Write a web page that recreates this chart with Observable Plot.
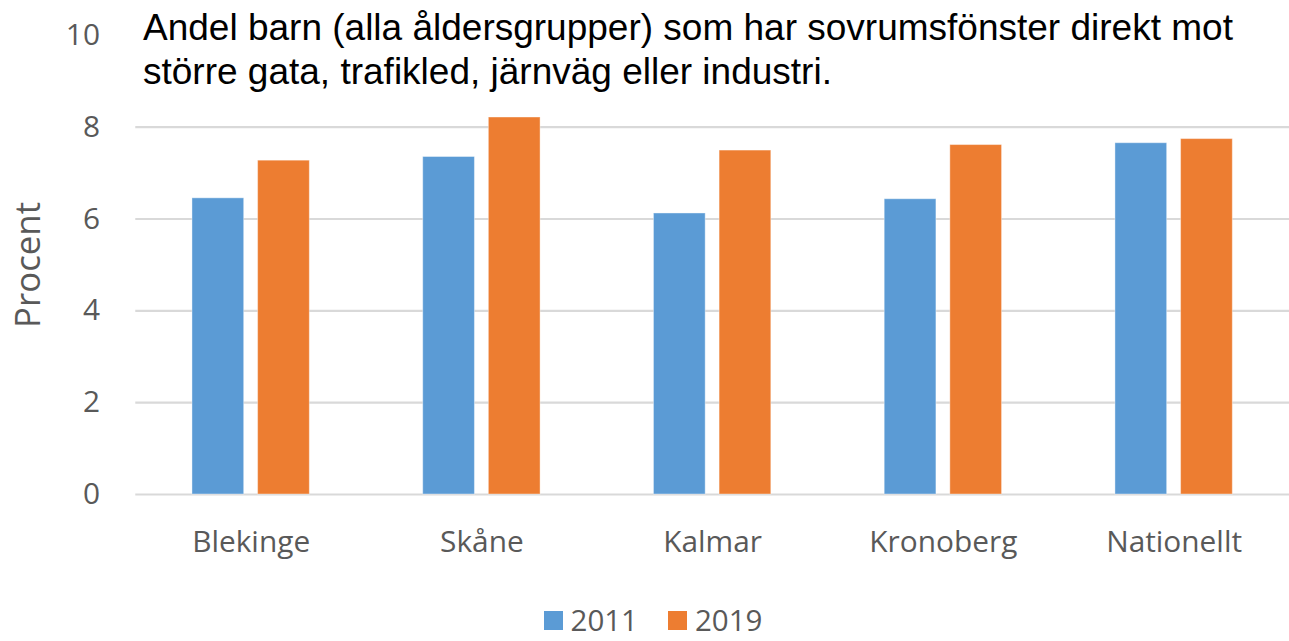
<!DOCTYPE html>
<html>
<head>
<meta charset="utf-8">
<script src="https://cdn.jsdelivr.net/npm/d3@7"></script>
<script src="https://cdn.jsdelivr.net/npm/@observablehq/plot@0.6"></script>
<style>
  html, body { margin: 0; padding: 0; overflow: hidden; background: #fff; }
  #wrap { position: relative; width: 1289px; height: 641px; overflow: hidden; }
  #chart { position: absolute; left: 0; top: 0; }
  #title { position: absolute; left: 143px; top: 6px; font-family: "Liberation Sans", Arial, sans-serif;
           font-size: 37px; line-height: 44px; color: #000; white-space: nowrap; }
  #legend { position: absolute; left: 0; width: 1306px; top: 605px; display: flex; justify-content: center;
            font-family: "Open Sans", sans-serif; font-size: 29.5px; color: #595959; line-height: 30px; }
  .item { display: flex; align-items: center; margin: 0 15px; }
  .sw { width: 19px; height: 19px; margin-right: 8px; }
  g[aria-label="y-axis label"] { font-size: 35px; }
</style>
</head>
<body>
<div id="wrap">
  <div id="chart"></div>
  <div id="title"></div>
  <div id="legend"></div>
</div>
<script>
const titleLines = ["Andel barn (alla åldersgrupper) som har sovrumsfönster direkt mot",
                    "större gata, trafikled, järnväg eller industri."];
const categories = ["Blekinge", "Skåne", "Kalmar", "Kronoberg", "Nationellt"];
const years = ["2011", "2019"];
const values2011 = [6.45, 7.35, 6.12, 6.43, 7.65];
const values2019 = [7.27, 8.21, 7.49, 7.61, 7.74];
const yTicks = [0, 2, 4, 6, 8, 10];
const gridTicks = [0, 2, 4, 6, 8];
const colors = ["#5B9BD5", "#ED7D31"];
const yLabel = "Procent";

const data2011 = categories.map((c, i) => ({category: c, year: years[0], value: values2011[i]}));
const data2019 = categories.map((c, i) => ({category: c, year: years[1], value: values2019[i]}));

const chart = Plot.plot({
  width: 1296,
  height: 580,
  marginLeft: 136,
  marginRight: 0,
  marginTop: 35,
  marginBottom: 83.3,
  style: {fontFamily: "'Open Sans', sans-serif", fontSize: "30px", color: "#595959", background: "transparent", overflow: "visible"},
  x: {domain: categories, paddingInner: 0.776, paddingOuter: 0.388},
  y: {domain: [0, 10]},
  color: {domain: years, range: colors},
  marks: [
    Plot.ruleY(gridTicks, {stroke: "#d9d9d9", strokeWidth: 2.2}),
    Plot.barY(data2011, {x: "category", y: "value", fill: "year", dx: -33, stroke: "#fff", strokeOpacity: 0.4, strokeWidth: 1}),
    Plot.barY(data2019, {x: "category", y: "value", fill: "year", dx: 33, stroke: "#fff", strokeOpacity: 0.4, strokeWidth: 1}),
    Plot.axisX({tickSize: 0, tickPadding: 37, label: null, fontSize: 30}),
    Plot.axisY({ticks: yTicks, tickSize: 0, tickPadding: 36, label: yLabel, labelAnchor: "center", labelOffset: 121, labelArrow: "none", fontSize: 30})
  ]
});
document.getElementById("chart").appendChild(chart);

document.getElementById("title").innerHTML = titleLines.join("<br>");

const legend = document.getElementById("legend");
years.forEach((y, i) => {
  const item = document.createElement("div");
  item.className = "item";
  const sw = document.createElement("span");
  sw.className = "sw";
  sw.style.background = colors[i];
  const t = document.createElement("span");
  t.textContent = y;
  item.appendChild(sw);
  item.appendChild(t);
  legend.appendChild(item);
});
</script>
</body>
</html>
